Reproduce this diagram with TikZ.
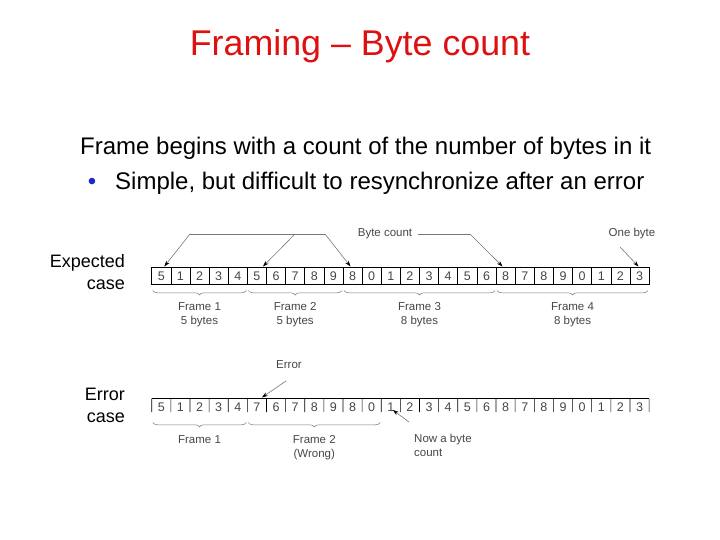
\documentclass[tikz,border=0pt]{standalone}
\usepackage{fontspec}
\setmainfont{Liberation Sans}
\usetikzlibrary{calc,decorations.pathreplacing,arrows.meta}

\definecolor{titlered}{RGB}{221,17,17}
\definecolor{bulletblue}{RGB}{30,40,200}
\definecolor{figgray}{RGB}{70,70,70}
\definecolor{linegray}{RGB}{120,120,120}

\tikzset{
  cell/.style={draw=black, line width=0.6pt, minimum width=19.13pt, minimum height=17pt,
    inner sep=0pt, outer sep=0pt, text=figgray, font=\fontsize{12.5}{14}\selectfont},
  ecell/.style={cell, draw=none},
  lbl/.style={text=figgray, font=\fontsize{11.5}{14}\selectfont, inner sep=0pt, align=center},
  brc/.style={draw=linegray, line width=0.5pt, decorate,
    decoration={brace, mirror, amplitude=4.5pt}},
  arr/.style={draw=linegray, line width=0.6pt, -{Stealth[length=6pt,width=4pt,black]}},
  gline/.style={draw=linegray, line width=0.8pt}
}

\begin{document}
\begin{tikzpicture}[x=1pt,y=-1pt]
  \useasboundingbox (0,0) rectangle (720,540);

  % Title and text
  \node[text=titlered, font=\fontsize{35.8}{40}\selectfont] (title) at (360,46) {Framing – Byte count};
  \node[anchor=base west, inner sep=0pt, font=\fontsize{24}{28}\selectfont] (line1) at (80,155)
    {Frame begins with a count of the number of bytes in it};
  \node[anchor=base, inner sep=0pt, text=bulletblue, font=\fontsize{24}{28}\selectfont] (dot) at (92,190) {•};
  \node[anchor=base west, inner sep=0pt, font=\fontsize{24}{28}\selectfont] (line2) at (115,190)
    {Simple, but difficult to resynchronize after an error};

  \node[anchor=north east, align=right, inner sep=0pt, font=\fontsize{18}{22}\selectfont] (expc) at (125,254)
    {Expected\\case};
  \node[anchor=north east, align=right, inner sep=0pt, font=\fontsize{18}{22}\selectfont] (errc) at (125,388)
    {Error\\case};

  % Cells
  \foreach \v [count=\i from 0] in {5,1,2,3,4,5,6,7,8,9,8,0,1,2,3,4,5,6,8,7,8,9,0,1,2,3}
    \node[cell] (e\i) at ({151.7+19.13*(\i+0.5)},276) {\v};
  \foreach \v [count=\i from 0] in {5,1,2,3,4,7,6,7,8,9,8,0,1,2,3,4,5,6,8,7,8,9,0,1,2,3}
    \node[ecell] (r\i) at ({151.7+19.13*(\i+0.5)},407) {\v};
  \draw[line width=0.6pt] (r0.north west) -- (r25.north east);
  \foreach \i in {0,...,25}
    \draw[line width=0.6pt] (r\i.north west) -- ($(r\i.north west)!0.8!(r\i.south west)$);
  \draw[line width=0.6pt] (r25.north east) -- ($(r25.north east)!0.8!(r25.south east)$);

  % Braces
  \draw[brc] ($(e0.south west)+(1,6)$) -- ($(e4.south east)+(-1,6)$);
  \draw[brc] ($(e5.south west)+(1,6)$) -- ($(e9.south east)+(-1,6)$);
  \draw[brc] ($(e10.south west)+(1,6)$) -- ($(e17.south east)+(-1,6)$);
  \draw[brc] ($(e18.south west)+(1,6)$) -- ($(e25.south east)+(-1,6)$);
  \draw[brc] ($(r0.south west)+(1,7)$) -- ($(r4.south east)+(-1,7)$);
  \draw[brc] ($(r5.south west)+(1,7)$) -- ($(r11.south east)+(-1,7)$);

  % Frame labels
  \node[lbl, anchor=north] (f1) at ($(e0.south west)!0.5!(e4.south east)+(0,17.5)$) {Frame 1\\5 bytes};
  \node[lbl, anchor=north] (f2) at ($(e5.south west)!0.5!(e9.south east)+(0,17.5)$) {Frame 2\\5 bytes};
  \node[lbl, anchor=north] (f3) at ($(e10.south west)!0.5!(e17.south east)+(0,17.5)$) {Frame 3\\8 bytes};
  \node[lbl, anchor=north] (f4) at ($(e18.south west)!0.5!(e25.south east)+(0,17.5)$) {Frame 4\\8 bytes};
  \node[lbl, anchor=north] (g1) at ($(r0.south west)!0.5!(r4.south east)+(0,19.5)$) {Frame 1};
  \node[lbl, anchor=north] (g2) at ($(r5.south west)!0.5!(r11.south east)+(0,19.5)$) {Frame 2\\(Wrong)};

  % Callouts
  \node[lbl] (bc) at (385,234) {Byte count};
  \node[lbl] (ob) at (632,234) {One byte};
  \node[lbl] (er) at (289,365) {Error};
  \node[lbl, anchor=north west, align=left] (nb) at (414,434) {Now a byte\\count};

  \coordinate (a1) at (190,234);
  \coordinate (a2) at (295,234);
  \coordinate (a3) at (325,234);
  \coordinate (a4) at (470,234);
  \coordinate (ot) at (620,247);
  \coordinate (et) at (286,381);
  \coordinate (nt) at (409,422);

  \draw[gline] (a1) -- (a3);
  \draw[gline] ($(bc.east)+(6,0)$) -- (a4);
  \draw[arr] (a1) -- ($(e0.north)+(3,-1)$);
  \draw[arr] (a2) -- ($(e5.north)+(6,-1)$);
  \draw[arr] (a3) -- ($(e10.north)+(-2,-1)$);
  \draw[arr] (a4) -- ($(e18.north)+(-3,-1)$);
  \draw[arr] (ot) -- ($(e25.north)+(-1,-1)$);
  \draw[arr] (et) -- ($(r5.north)+(5,-1)$);
  \draw[arr] (nt) -- ($(r12.center)+(2,3)$);
\end{tikzpicture}
\end{document}
